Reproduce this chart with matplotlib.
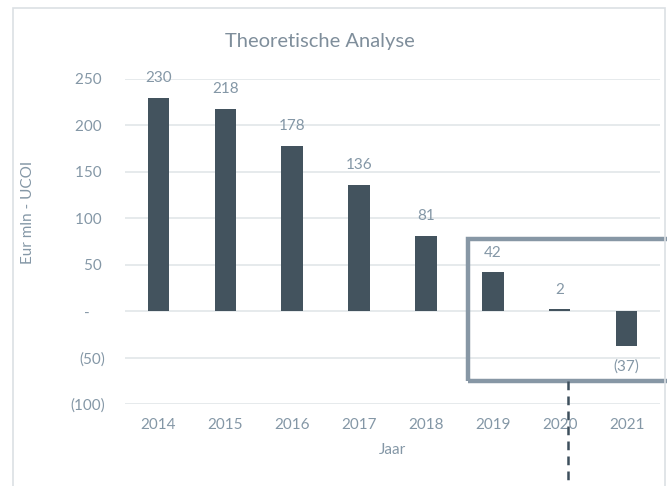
import matplotlib
matplotlib.use("Agg")
import matplotlib.pyplot as plt
from matplotlib.patches import Rectangle
from matplotlib.lines import Line2D

plt.rcParams['font.family'] = ['Lato', 'DejaVu Sans']

# data
years = ["2014", "2015", "2016", "2017", "2018", "2019", "2020", "2021"]
values = [230, 218, 178, 136, 81, 42, 2, -37]
yticks = [-100, -50, 0, 50, 100, 150, 200, 250]
ytick_labels = ["(100)", "(50)", "-    ", "50 ", "100 ", "150 ", "200 ", "250 "]

bar_col = "#43535E"
txt_col = "#8497A6"
grid_col = "#E4E8EB"
box_col = "#8797A5"

def fmt(v):
    return "(%d)" % abs(v) if v < 0 else "%d" % v

fig = plt.figure(figsize=(6.67, 4.86), dpi=100)
ax = fig.add_axes([125/667, 82/486, 535/667, 325/486])

xs = list(range(len(years)))
ax.bar(xs, values, width=0.32, color=bar_col, zorder=3)
ax.set_xlim(-0.5, len(years) - 0.5)
ax.set_ylim(-100, 250)

ax.set_yticks(yticks)
ax.set_yticklabels(ytick_labels)
ax.set_xticks(xs)
ax.set_xticklabels(years)
ax.yaxis.grid(True, color=grid_col, linewidth=1.3, zorder=0)
ax.tick_params(length=0, labelcolor=txt_col, labelsize=11)
ax.tick_params(axis="y", pad=14)
ax.tick_params(axis="x", pad=10)
for s in ax.spines.values():
    s.set_visible(False)

# value labels
for x, v in zip(xs, values):
    off = 14 if v >= 0 else -15
    ax.annotate(fmt(v), (x, v), xytext=(0, off), textcoords="offset points",
                ha="center", va="center", color=txt_col, fontsize=11)

ax.set_xlabel("Jaar", color=txt_col, fontsize=11)
ax.xaxis.set_label_coords(0.5, -0.12)
ax.set_ylabel("Eur mln - UCOI", color=txt_col, fontsize=11)
ax.yaxis.set_label_coords(-0.168, 0.59)

fig.text(320/667, 1 - 42/486, "Theoretische Analyse", ha="center", va="center",
         color="#7F8E9B", fontsize=14.5)

# highlight box and dashed marker
ax.add_patch(Rectangle((4.63, -75), 4.0, 152.5, fill=False, edgecolor=box_col,
                       linewidth=3.2, clip_on=False, zorder=4))
ax.add_line(Line2D([6.12, 6.12], [-75, -200], color="#3D4F5C", linewidth=1.8,
                   linestyle=(0, (3.5, 2.5)), clip_on=False, zorder=4))

# outer chart border
fig.add_artist(Rectangle((13.5/667, -0.1), 651/667, 1.1 - 7.5/486, fill=False,
                         edgecolor="#DCE0E4", linewidth=1.2, transform=fig.transFigure))

fig.savefig("out.png", dpi=100)
